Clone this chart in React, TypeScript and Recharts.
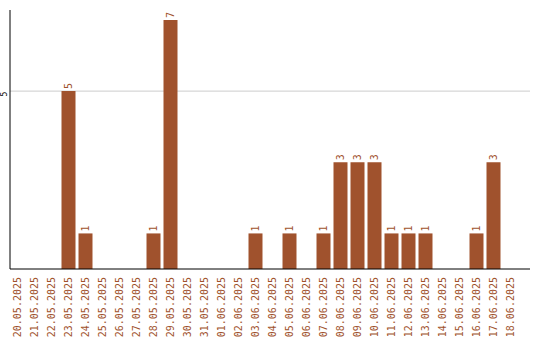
import React from 'react';
import { BarChart, Bar, XAxis, YAxis, CartesianGrid, LabelList } from 'recharts';

const categories = [
  '20.05.2025', '21.05.2025', '22.05.2025', '23.05.2025', '24.05.2025', '25.05.2025',
  '26.05.2025', '27.05.2025', '28.05.2025', '29.05.2025', '30.05.2025', '31.05.2025',
  '01.06.2025', '02.06.2025', '03.06.2025', '04.06.2025', '05.06.2025', '06.06.2025',
  '07.06.2025', '08.06.2025', '09.06.2025', '10.06.2025', '11.06.2025', '12.06.2025',
  '13.06.2025', '14.06.2025', '15.06.2025', '16.06.2025', '17.06.2025', '18.06.2025',
];
const counts = [0, 0, 0, 5, 1, 0, 0, 0, 1, 7, 0, 0, 0, 0, 1, 0, 1, 0, 1, 3, 3, 3, 1, 1, 1, 0, 0, 1, 3, 0];
const yTicks = [5];

const data = categories.map((c, i) => ({ date: c, count: counts[i] }));

const BROWN = '#A0522D';
const MONO = '"DejaVu Sans Mono", "Liberation Mono", monospace';

const XTick = (props: any) => {
  const { x, y, payload } = props;
  return (
    <text
      x={0}
      y={0}
      transform={`translate(${x},${y}) rotate(-90)`}
      textAnchor="end"
      dominantBaseline="central"
      fill={BROWN}
      fontSize={10}
      fontFamily={MONO}
    >
      {payload.value}
    </text>
  );
};

const YTick = (props: any) => {
  const { y, payload } = props;
  return (
    <text
      x={0}
      y={0}
      transform={`translate(4,${y + 3}) rotate(-90)`}
      textAnchor="middle"
      dominantBaseline="central"
      fill="#000"
      fontSize={8}
      fontFamily={MONO}
    >
      {payload.value}
    </text>
  );
};

const BarLabel = (props: any) => {
  const { x, y, width, value } = props;
  if (!value) return null;
  return (
    <text
      x={0}
      y={0}
      transform={`translate(${x + width / 2},${y - 2}) rotate(-90)`}
      textAnchor="start"
      dominantBaseline="central"
      fill={BROWN}
      fontSize={10}
      fontFamily={MONO}
    >
      {value}
    </text>
  );
};

export default function App() {
  return (
    <div style={{ position: 'absolute', left: 0, top: 0, background: '#fff' }}>
      <BarChart
        width={540}
        height={340}
        data={data}
        margin={{ top: 10, right: 10, bottom: 0, left: 0 }}
        barSize={14}
      >
        <CartesianGrid vertical={false} horizontalValues={yTicks} stroke="#cccccc" />
        <XAxis
          dataKey="date"
          interval={0}
          height={71}
          tickLine={false}
          axisLine={{ stroke: '#000' }}
          tick={<XTick />}
          padding={{ left: -1.5, right: 11.5 }}
        />
        <YAxis
          width={10}
          domain={[0, 7.28]}
          ticks={yTicks}
          tickLine={false}
          axisLine={{ stroke: '#000' }}
          tick={<YTick />}
        />
        <Bar dataKey="count" fill={BROWN} isAnimationActive={false}>
          <LabelList dataKey="count" content={<BarLabel />} />
        </Bar>
      </BarChart>
    </div>
  );
}
